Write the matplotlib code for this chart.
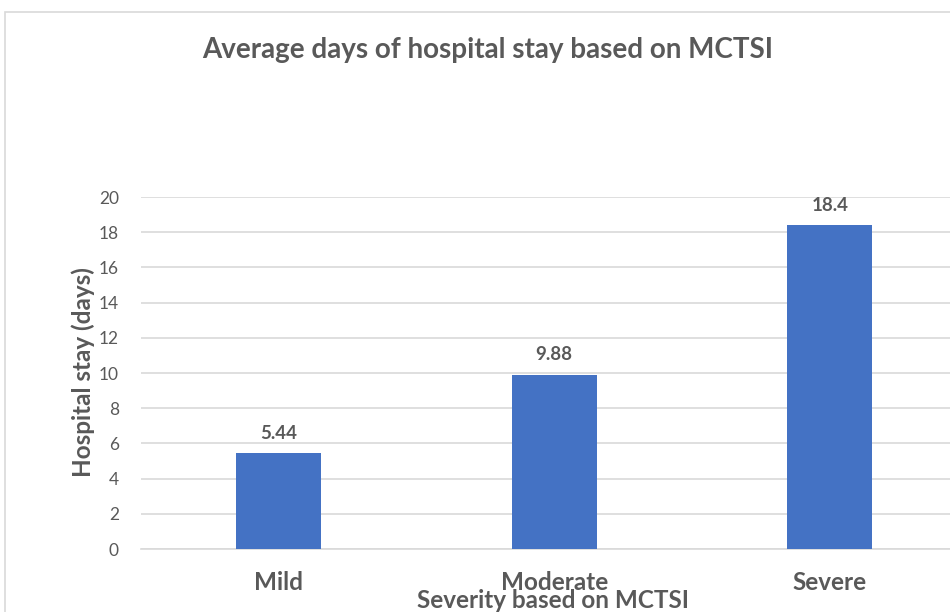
import matplotlib
matplotlib.use("Agg")
import matplotlib.pyplot as plt
from matplotlib.patches import Rectangle

categories = ["Mild", "Moderate", "Severe"]
values = [5.44, 9.88, 18.4]
value_labels = ["5.44", "9.88", "18.4"]
yticks = [0, 2, 4, 6, 8, 10, 12, 14, 16, 18, 20]

TXT = "#595959"
GRID = "#D9D9D9"
BAR = "#4472C4"
FONT = ["Lato", "DejaVu Sans"]

W, H = 950, 612
fig = plt.figure(figsize=(W / 100, H / 100), dpi=100)
fig.patch.set_facecolor("white")

# chart-area border (partly cut off at right and bottom)
fig.add_artist(Rectangle((5 / W, -0.1), 1.2, (H - 12) / H + 0.1,
                         transform=fig.transFigure, fill=False,
                         edgecolor=GRID, linewidth=1.2))

ax = fig.add_axes([141 / W, (H - 549) / H, 826.5 / W, 352 / H])
x = list(range(len(categories)))
ax.bar(x, values, width=0.31, color=BAR, zorder=3)
ax.set_xlim(-0.5, 2.5)
ax.set_ylim(0, 20)
ax.set_yticks(yticks)
ax.set_yticklabels([str(t) for t in yticks], fontsize=12.5, color=TXT, family=FONT)
ax.yaxis.grid(True, color=GRID, linewidth=1.2, zorder=0)
ax.set_axisbelow(True)
ax.tick_params(axis="y", length=0, pad=16)
ax.tick_params(axis="x", length=0, pad=16)
ax.set_xticks(x)
ax.set_xticklabels(categories, fontsize=17.5, fontweight="bold", color=TXT, family=FONT)
for s in ["top", "right", "left"]:
    ax.spines[s].set_visible(False)
ax.spines["bottom"].set_color(GRID)
ax.spines["bottom"].set_linewidth(1.2)

for xi, v, lab in zip(x, values, value_labels):
    ax.annotate(lab, (xi, v), xytext=(0, 14.5), textcoords="offset points",
                ha="center", va="center", fontsize=13.5, fontweight="bold",
                color=TXT, family=FONT)

fig.text(488 / W, (H - 50) / H, "Average days of hospital stay based on MCTSI",
         ha="center", va="center", fontsize=20, fontweight="bold", color=TXT, family=FONT)
fig.text(83 / W, (H - 372) / H, "Hospital stay (days)", rotation=90,
         ha="center", va="center", fontsize=17.5, fontweight="bold", color=TXT, family=FONT)
fig.text(553 / W, (H - 601) / H, "Severity based on MCTSI",
         ha="center", va="center", fontsize=17.5, fontweight="bold", color=TXT, family=FONT)

fig.savefig("out.png", dpi=100)
